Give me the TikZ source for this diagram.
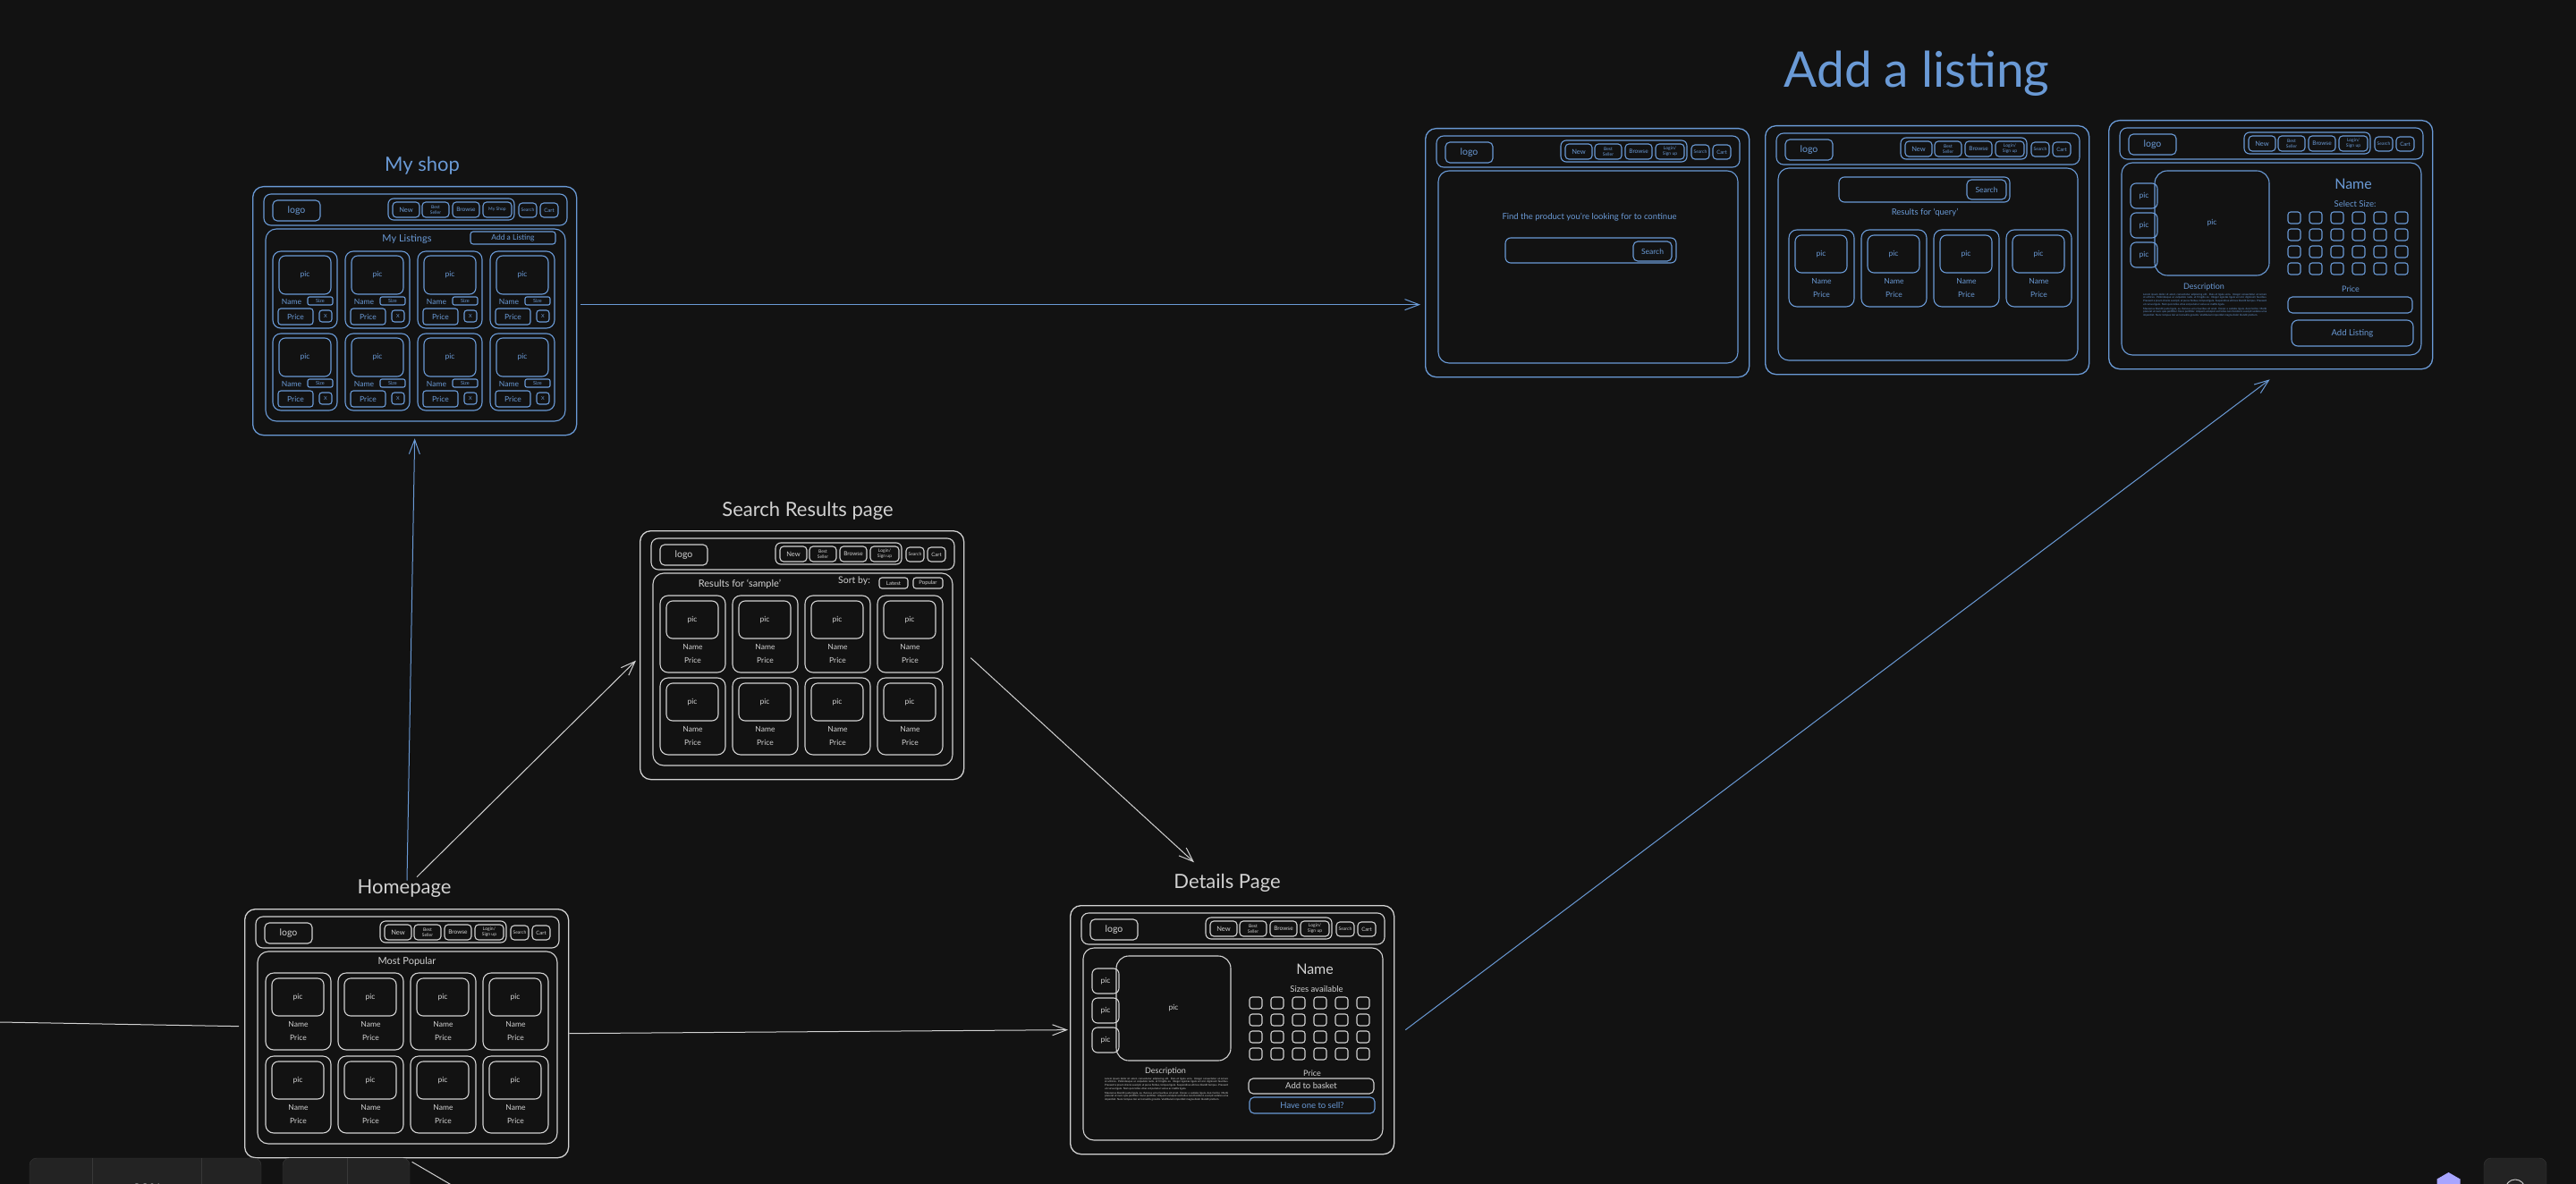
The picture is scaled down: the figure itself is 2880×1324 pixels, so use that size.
\documentclass[tikz,border=0pt]{standalone}
\usepackage{fontspec}
\setmainfont{Lato}
\usetikzlibrary{arrows.meta,positioning,calc}

\definecolor{bg}{HTML}{121212}
\definecolor{chalk}{HTML}{D2D2D2}
\definecolor{sky}{HTML}{6A9AD6}
\definecolor{uibox}{HTML}{232323}
\definecolor{uiline}{HTML}{383838}
\definecolor{uitext}{HTML}{C8C8C8}
\definecolor{lavender}{HTML}{A8A5FF}

\tikzset{
  frame/.style={draw, line width=1.3pt, rounded corners=12pt, minimum width=362pt,
    minimum height=278pt, anchor=north west, inner sep=0pt},
  box/.style={draw, line width=1.1pt},
  title/.style={font=\fontsize{22}{26}\selectfont, anchor=base},
  navtext/.style={font=\fontsize{5}{5.8}\selectfont, align=center, inner sep=0pt},
  small/.style={font=\fontsize{8.5}{10}\selectfont, inner sep=0pt},
  label8/.style={font=\fontsize{11}{13}\selectfont, inner sep=0pt},
  lorem/.style={font=\fontsize{2.9}{3.6}\selectfont, text width=138pt, align=justify,
    inner sep=0pt, anchor=north west},
  flow/.style={line width=1pt, -{Straight Barb[length=16pt,width=12pt]}},
}

% header bar of every page
\newcommand{\wfheader}[2]{%
  \draw[box, rounded corners=8pt] (13,9) rectangle (352,44);
  \draw[box, rounded corners=5pt] (23,16) rectangle node[font=\fontsize{10.5}{12}\selectfont, inner sep=0pt] (#1-logo) {logo} (76,39);
  \draw[box, rounded corners=6pt] (152,14) rectangle (293,38);
  \draw[box, rounded corners=4pt] (157,18) rectangle node[navtext, font=\fontsize{7.5}{8}\selectfont] (#1-new) {New} (187,35);
  \draw[box, rounded corners=4pt] (190,18) rectangle node[navtext] (#1-best) {Best\\Seller} (220,35);
  \draw[box, rounded corners=4pt] (224,18) rectangle node[navtext, font=\fontsize{6.5}{7}\selectfont] (#1-browse) {Browse} (254,35);
  \draw[box, rounded corners=4pt] (258,18) rectangle node[navtext] (#1-login) {#2} (290,35);
  \draw[box, rounded corners=4pt] (298,19) rectangle node[navtext] (#1-search) {Search} (318,35);
  \draw[box, rounded corners=4pt] (322,19) rectangle node[navtext, font=\fontsize{6}{7}\selectfont] (#1-cart) {Cart} (342,35);
}
\newcommand{\wfcontent}{\draw[box, rounded corners=12pt] (15,48) rectangle (350,263);}

% product card
\newcommand{\wfcard}[3]{%
  \begin{scope}[shift={(#2,#3)}]
    \draw[box, rounded corners=9pt] (0,0) rectangle (73,86);
    \draw[box, rounded corners=7pt] (7,6) rectangle node[small] (#1-pic) {pic} (65,48);
    \node[small] (#1-name) at (36.5,57) {Name};
    \node[small] (#1-price) at (36.5,72) {Price};
  \end{scope}}

% card in my shop
\newcommand{\shopcard}[3]{%
  \begin{scope}[shift={(#2,#3)}]
    \draw[box, rounded corners=9pt] (0,0) rectangle (72,86);
    \draw[box, rounded corners=7pt] (7,5) rectangle node[small] (#1-pic) {pic} (65,48);
    \node[small] (#1-name) at (21,56) {Name};
    \draw[box, rounded corners=2pt] (39,51) rectangle node[navtext, font=\fontsize{5.5}{6}\selectfont] (#1-size) {Size} (67,60);
    \draw[box, rounded corners=3pt] (6,64) rectangle node[small] (#1-price) {Price} (45,82);
    \draw[box, rounded corners=3pt] (52,66) rectangle node[navtext, font=\fontsize{5.5}{6}\selectfont] (#1-del) {X} (66,79);
  \end{scope}}

\newcommand{\loremtext}{Lorem ipsum dolor sit amet, consectetur adipiscing elit. Duis et ligula urna. Integer consectetur ut ornare at ultrices. Pellentesque ac vulputate nulla, ut fringilla ex. Integer egestas ligula vel orci dignissim faucibus. Praesent a ipsum id eros suscipit, ut purus finibus, tempus ligula. Suspendisse ultrices blandit tempus. Praesent ut cursus ligula. Nam quis tellus vitae est pulvinar varius ac mattis ligula.\par\vspace{1.6pt}
Maecenas blandit justo ligula, eu rhoncus urna faucibus sit amet. Donec a sodales ligula, duis facilisi. Morbi placerat ut nunc quis porttitor. Nunc porttitor. Aliquam volutpat sed tellus non tincidunt, suscipit sodales urna imperdiet. Nunc tempus nisi vel convallis gravida. Vestibulum imperdiet magna dolor blandit pretium.}

% product page body
\newcommand{\productview}[3]{%
  \foreach \yy [count=\k] in {71,104,137}
    {\draw[box, rounded corners=6pt] (25,\yy) rectangle node[small] (#1-thumb\k) {pic} (55,\yy+28);}
  \draw[box, rounded corners=14pt] (52,57) rectangle node[small] (#1-main) {pic} (180,174);
  \node[font=\fontsize{16}{18}\selectfont, inner sep=0pt] (#1-name) at (274,72) {Name};
  \node[small, font=\fontsize{9.5}{11}\selectfont] (#1-sizes) at (276,94) {#2};
  \foreach \c in {0,...,5}
    \foreach \r in {0,...,3}
      {\draw[box, rounded corners=3pt] (201+24*\c,103+19*\r) rectangle ++(14,13);}
  \node[small, font=\fontsize{9}{11}\selectfont] (#1-desc) at (107,#3) {Description};
  \node[lorem] (#1-lorem) at (39,#3+7) {\loremtext};
}

\begin{document}
\begin{tikzpicture}[x=1pt,y=-1pt, color=chalk]
\fill[bg] (0,0) rectangle (2880,1324);
\useasboundingbox (0,0) rectangle (2880,1324);

% titles
\node[title, sky] (shoptitle) at (472,192) {My shop};
\node[title] (searchtitle) at (903,577) {Search Results page};
\node[title] (hometitle) at (452,999) {Homepage};
\node[title] (dettitle) at (1372,993) {Details Page};
\node[sky, anchor=base, font=\fontsize{55}{60}\selectfont] (addtitle) at (2143,98) {Add a listing};

% My shop
\node[frame, sky] (myshop) at (282,208) {};
\begin{scope}[shift={(myshop.north west)}, color=sky]
  \wfheader{shop}{My Shop}
  \wfcontent
  \node[label8] (shop-list) at (173,59) {My Listings};
  \draw[box, rounded corners=3pt] (244,51) rectangle node[font=\fontsize{8.5}{9}\selectfont, inner sep=0pt] (shop-add) {Add a Listing} (339,65);
  \foreach \i in {0,...,3}
    \foreach \j in {73,165}
      {\shopcard{shop-\i-\j}{23+81*\i}{\j}}
\end{scope}

% Search results
\node[frame] (searchres) at (715,593) {};
\begin{scope}[shift={(searchres.north west)}]
  \wfheader{res}{Login/\\Sign up}
  \wfcontent
  \node[label8] (res-for) at (112,60) {Results for `sample'};
  \node[label8, font=\fontsize{10.5}{12}\selectfont] (res-sort) at (240,57) {Sort by:};
  \draw[box, rounded corners=3pt] (268,53) rectangle node[navtext, font=\fontsize{6}{7}\selectfont] (res-latest) {Latest} (300,65);
  \draw[box, rounded corners=3pt] (306,53) rectangle node[navtext, font=\fontsize{6}{7}\selectfont] (res-popular) {Popular} (339,65);
  \foreach \i in {0,...,3}
    \foreach \j in {73,165}
      {\wfcard{res-\i-\j}{23+81*\i}{\j}}
\end{scope}

% Homepage
\node[frame] (home) at (273,1016) {};
\begin{scope}[shift={(home.north west)}]
  \wfheader{home}{Login/\\Sign up}
  \wfcontent
  \node[label8] (home-popular) at (182,59) {Most Popular};
  \foreach \i in {0,...,3}
    \foreach \j in {72,165}
      {\wfcard{home-\i-\j}{24+81*\i}{\j}}
\end{scope}

% Details page
\node[frame] (details) at (1196,1012) {};
\begin{scope}[shift={(details.north west)}]
  \wfheader{det}{Login/\\Sign up}
  \wfcontent
  \productview{det}{Sizes available}{186}
  \node[small, font=\fontsize{9}{11}\selectfont] (det-price) at (271,188) {Price};
  \draw[box, rounded corners=5pt] (200,194) rectangle node[small, font=\fontsize{9.5}{11}\selectfont] (det-basket) {Add to basket} (340,211);
  \draw[box, sky, rounded corners=5pt] (201,215) rectangle node[small, sky, font=\fontsize{9.5}{11}\selectfont] (det-sell) {Have one to sell?} (341,233);
\end{scope}

% Add a listing: find product
\node[frame, sky] (addlist1) at (1593,143) {};
\begin{scope}[shift={(addlist1.north west)}, color=sky]
  \wfheader{find}{Login/\\Sign up}
  \wfcontent
  \node[small, font=\fontsize{9.5}{11}\selectfont] (find-text) at (184,100) {Find the product you're looking for to continue};
  \draw[box, rounded corners=6pt] (90,123) rectangle (281,151);
  \draw[box, rounded corners=5pt] (233,127) rectangle node[small] (find-btn) {Search} (276,149);
\end{scope}

% Add a listing: results
\node[frame, sky] (addlist2) at (1973,140) {};
\begin{scope}[shift={(addlist2.north west)}, color=sky]
  \wfheader{query}{Login/\\Sign up}
  \wfcontent
  \draw[box, rounded corners=6pt] (83,58) rectangle (274,86);
  \draw[box, rounded corners=5pt] (226,61) rectangle node[small] (query-btn) {Search} (270,83);
  \node[small, font=\fontsize{9.5}{11}\selectfont] (query-for) at (179,98) {Results for `query'};
  \foreach \i in {0,...,3}
    {\wfcard{query-\i}{27+81*\i}{117}}
\end{scope}

% Add a listing: details
\node[frame, sky] (addlist3) at (2357,134) {};
\begin{scope}[shift={(addlist3.north west)}, color=sky]
  \wfheader{new}{Login/\\Sign up}
  \wfcontent
  \productview{new}{Select Size:}{187}
  \node[small, font=\fontsize{9}{11}\selectfont] (new-price) at (271,189) {Price};
  \draw[box, rounded corners=5pt] (201,198) rectangle (340,216);
  \draw[box, rounded corners=7pt] (205,224) rectangle node[small, font=\fontsize{9.5}{11}\selectfont] (new-add) {Add Listing} (341,253);
\end{scope}

% connectors
\coordinate (lefttail) at (0,1143);
\coordinate (belowtail) at (520,1334);
\draw[line width=1pt] (lefttail) -- ([shift={(-6,-8)}]home.west);
\draw[line width=1pt] (belowtail) -- ([shift={(6,4)}]home.south);
\draw[flow, sky] ([shift={(3,5)}]hometitle.north) -- ([yshift=-3pt]myshop.south);
\draw[flow] ([shift={(14,1)}]hometitle.north) -- ([shift={(-4,6)}]searchres.west);
\draw[flow] ([shift={(7,3)}]searchres.east) -- ([shift={(-37,-9)}]dettitle.north);
\draw[flow] (home.east) -- ([xshift=-2pt]details.west);
\draw[flow, sky] ([shift={(4,-7)}]myshop.east) -- ([shift={(-5,58)}]addlist1.west);
\draw[flow, sky] ([xshift=12pt]details.east) -- ([shift={(-1,11)}]addlist3.south);

% editor controls along the bottom edge
\draw[fill=uibox, draw=uiline, rounded corners=8pt] (33,1295) rectangle (292,1345);
\draw[uiline] (103,1295) -- (103,1324) (225,1295) -- (225,1324);
\draw[fill=uibox, draw=uiline, rounded corners=8pt] (316,1295) rectangle (458,1345);
\draw[uiline] (388,1295) -- (388,1324);
\node[uitext, font=\fontsize{18}{20}\selectfont] (zoomout) at (68,1330) {$-$};
\node[uitext, font=\fontsize{16}{20}\selectfont] (zoomlevel) at (164,1330) {80\%};
\node[uitext, font=\fontsize{18}{20}\selectfont] (zoomin) at (260,1330) {$+$};
\node[uitext, font=\fontsize{18}{20}\selectfont] (undo) at (352,1330) {$\leftarrow$};
\node[uitext, font=\fontsize{18}{20}\selectfont] (redo) at (423,1330) {$\rightarrow$};
\fill[lavender] (2737.5,1311) -- (2750.5,1318.5) -- (2750.5,1333.5) -- (2737.5,1341)
  -- (2724.5,1333.5) -- (2724.5,1318.5) -- cycle;
\draw[fill=uibox, draw=uiline, rounded corners=8pt] (2777,1295) rectangle (2847,1345);
\draw[uitext, line width=1pt] (2812,1330) circle (11);
\end{tikzpicture}
\end{document}
